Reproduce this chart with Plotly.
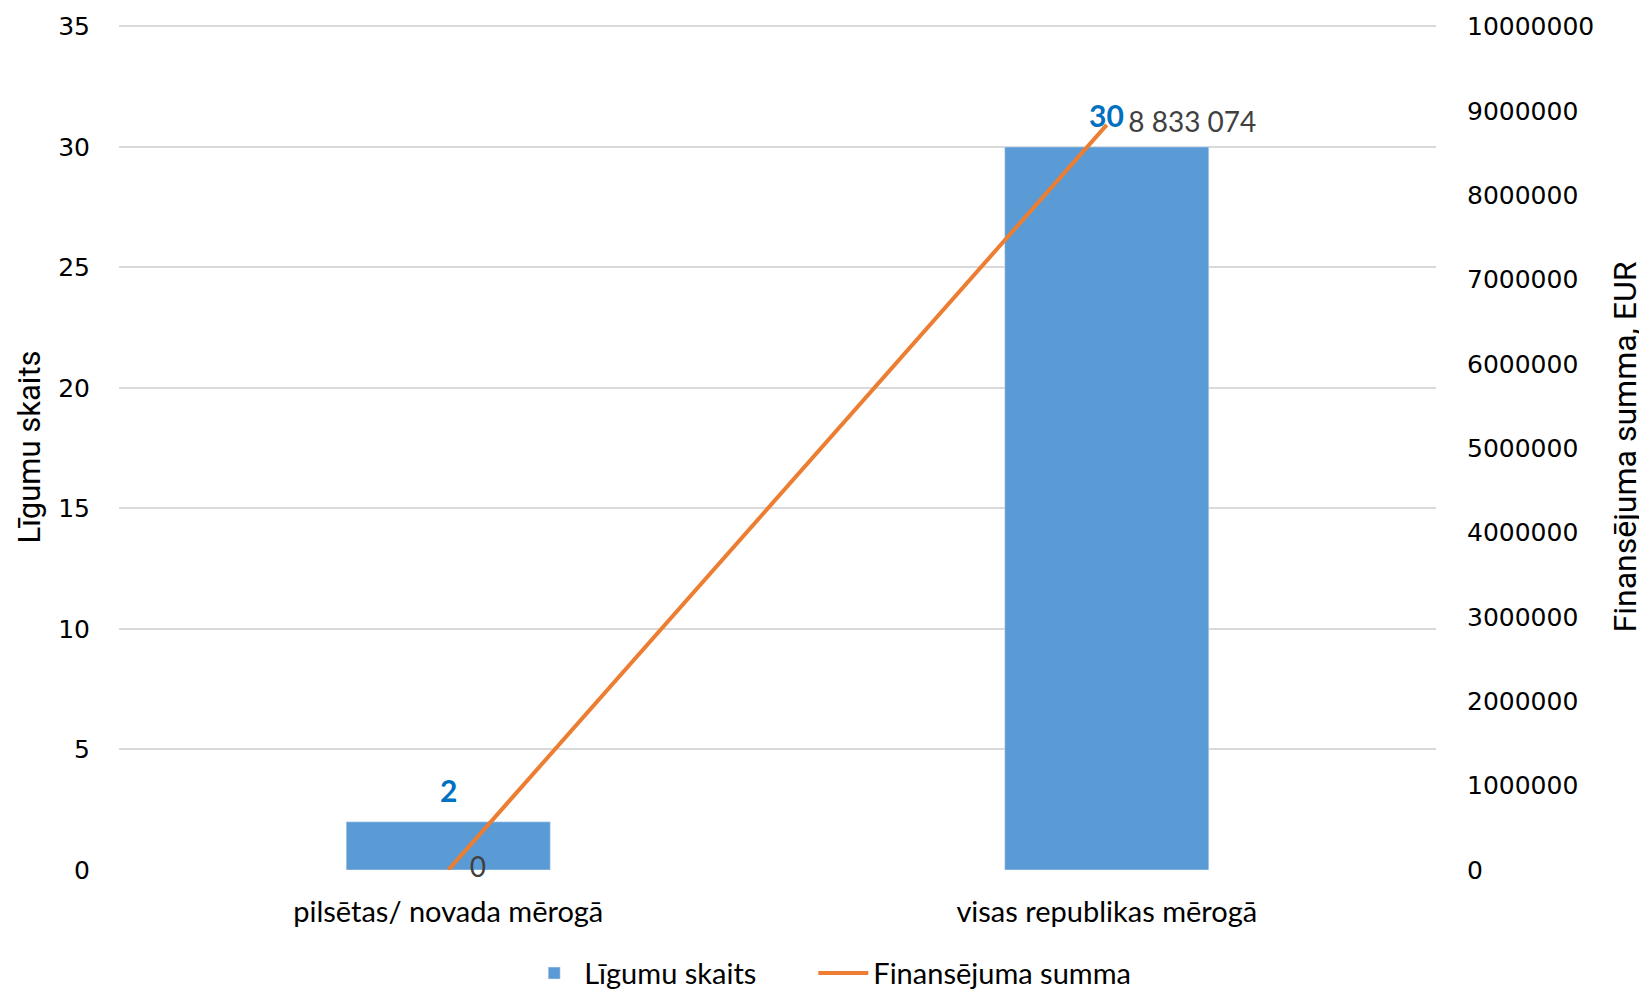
import plotly.graph_objects as go

categories = ["pilsētas/ novada mērogā", "visas republikas mērogā"]
ligumu_skaits = [2, 30]
finansejuma_summa = [0, 8833074]

y_ticks = [0, 5, 10, 15, 20, 25, 30, 35]
y2_ticks = [0, 1000000, 2000000, 3000000, 4000000, 5000000, 6000000, 7000000, 8000000, 9000000, 10000000]

line_text = [f"{v:,}".replace(",", " ") for v in finansejuma_summa]

fig = go.Figure()

fig.add_trace(go.Bar(
    x=categories, y=ligumu_skaits, name="Līgumu skaits" + "\u00a0" * 7,
    marker_color="#5B9BD5", width=0.31,
))

fig.add_trace(go.Scatter(
    x=categories, y=finansejuma_summa, name="Finansējuma summa",
    yaxis="y2", mode="lines+text",
    line=dict(color="#ED7D31", width=4),
    text=["   " + t for t in line_text], textposition="middle right",
    textfont=dict(family="Lato", size=28, color="#404040"),
    cliponaxis=False,
))

# bar value labels
for c, v in zip(categories, ligumu_skaits):
    fig.add_annotation(x=c, y=v, text=str(v), showarrow=False,
                       yanchor="bottom", yshift=12,
                       font=dict(family="Lato", size=30, color="#0070C0", weight="bold"))

fig.update_layout(
    width=1639, height=982,
    margin=dict(l=111, r=211, t=16, b=120, autoexpand=False),
    plot_bgcolor="white", paper_bgcolor="white",
    showlegend=True,
    legend=dict(orientation="h", x=0.54, xanchor="center", y=-0.122, yanchor="middle",
                font=dict(family="Lato", size=29, color="#000000"),
                itemwidth=50,
                traceorder="normal"),
    xaxis=dict(tickfont=dict(family="Lato", size=29, color="#000000"),
               showline=False, ticks="", ticklabelstandoff=22),
    yaxis=dict(range=[0, 35.1], tickvals=y_ticks,
               tickfont=dict(family="DejaVu Sans", size=25, color="#000000"),
               gridcolor="#D9D9D9", gridwidth=1.5, zeroline=False,
               ticklabelstandoff=28,
               title=dict(text="Līgumu skaits", standoff=8,
                          font=dict(family="Liberation Sans Narrow, Roboto, sans-serif", size=31, color="#000000"))),
    yaxis2=dict(range=[0, 10028571], tickvals=y2_ticks, tickformat="d",
                overlaying="y", side="right", showgrid=False, zeroline=False,
                ticklabelstandoff=30,
                tickfont=dict(family="DejaVu Sans", size=25, color="#000000"),
                title=dict(text="Finansējuma summa, EUR", standoff=20,
                           font=dict(family="Liberation Sans Narrow, Roboto, sans-serif", size=32, color="#000000"))),
)

fig.write_html("out.html")
